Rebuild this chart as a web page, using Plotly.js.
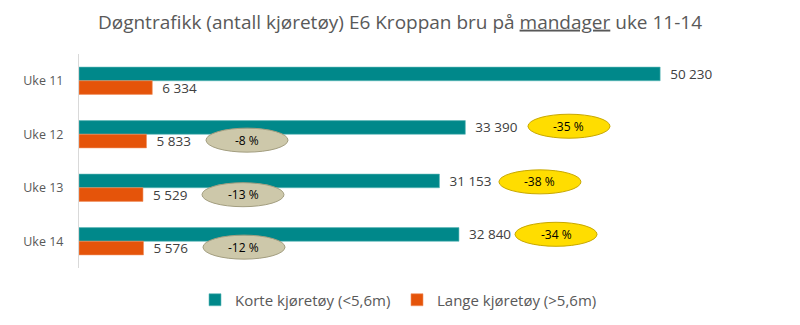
<!DOCTYPE html>
<html><head><meta charset="utf-8">
<script src="https://cdn.plot.ly/plotly-3.0.1.min.js"></script>
<style>html,body{margin:0;padding:0;background:#fff}#chart{width:800px;height:325px}</style>
</head><body><div id="chart"></div>
<script>
const weeks = ["Uke 11", "Uke 12", "Uke 13", "Uke 14"];
const shortVehicles = [50230, 33390, 31153, 32840];
const longVehicles = [6334, 5833, 5529, 5576];
const longChange = ["", "-8 %", "-13 %", "-12 %"];
const shortChange = ["", "-35 %", "-38 %", "-34 %"];
const seriesNames = ["Korte kjøretøy (<5,6m)", "Lange kjøretøy (>5,6m)"];

const font = "Open Sans, Noto Sans, sans-serif";
const grey = "#595959";

const traces = [
  {type: "bar", orientation: "h", name: seriesNames[0], y: weeks, x: shortVehicles,
   marker: {color: "#00888a", line: {color: "#5cb8b9", width: 0.6}},
   texttemplate: "\u00a0\u00a0%{x:,}", textposition: "outside", cliponaxis: false, constraintext: "none",
   textfont: {family: font, size: 13.5, color: "#404040"}, hoverinfo: "x"},
  {type: "bar", orientation: "h", name: seriesNames[1], y: weeks, x: longVehicles,
   marker: {color: "#e5540a", line: {color: "#f09060", width: 0.6}},
   texttemplate: "\u00a0\u00a0%{x:,}", textposition: "outside", cliponaxis: false, constraintext: "none",
   textfont: {family: font, size: 13.5, color: "#404040"}, hoverinfo: "x"}
];

// ellipse placement (data x, category-index y)
const greyPos = [null, [14520, 1.11], [14175, 2.13], [14260, 3.11]];
const yellowPos = [null, [42350, 0.85], [39840, 1.89], [41230, 2.87]];

const shapes = [], annotations = [];
function ellipse(pos, label, fill, line) {
  shapes.push({type: "circle", xref: "x", yref: "y", xsizemode: "pixel", ysizemode: "pixel",
    xanchor: pos[0], yanchor: pos[1], x0: -41, x1: 41, y0: -12, y1: 12,
    fillcolor: fill, line: {color: line, width: 1}, layer: "above"});
  annotations.push({xref: "x", yref: "y", x: pos[0], y: pos[1], text: label, showarrow: false,
    font: {family: font, size: 12, color: "#000"}});
}
for (let i = 1; i < weeks.length; i++) {
  ellipse(greyPos[i], longChange[i], "#cdc8aa", "#a39e80");
  ellipse(yellowPos[i], shortChange[i], "#ffdd00", "#c8a800");
}

const layout = {
  width: 800, height: 325,
  margin: {l: 79, r: 40, t: 54, b: 57},
  paper_bgcolor: "#fff", plot_bgcolor: "#fff",
  separators: ", ",
  title: {text: "Døgntrafikk (antall kjøretøy) E6 Kroppan bru på <u>mandager</u> uke 11-14",
    font: {family: font, size: 19, color: grey}, x: 0.5, xanchor: "center",
    y: 1 - 22/325, yanchor: "middle", yref: "container"},
  barmode: "group", bargap: 0.49, bargroupgap: 0,
  xaxis: {range: [0, 58860], visible: false, fixedrange: true},
  yaxis: {autorange: "reversed", showline: true, linecolor: "#d9d9d9", linewidth: 1,
    ticks: "", ticklabelstandoff: 12, tickfont: {family: font, size: 12.5, color: grey}, showgrid: false},
  showlegend: true,
  legend: {orientation: "h", x: 397/800, xanchor: "center", xref: "container",
    y: 25/325, yanchor: "middle", yref: "container",
    traceorder: "normal", font: {family: font, size: 15, color: grey}, itemwidth: 30,
    entrywidth: 157, entrywidthmode: "pixels"},
  shapes: shapes, annotations: annotations
};

Plotly.newPlot("chart", traces, layout, {displayModeBar: false, staticPlot: true});
</script></body></html>
